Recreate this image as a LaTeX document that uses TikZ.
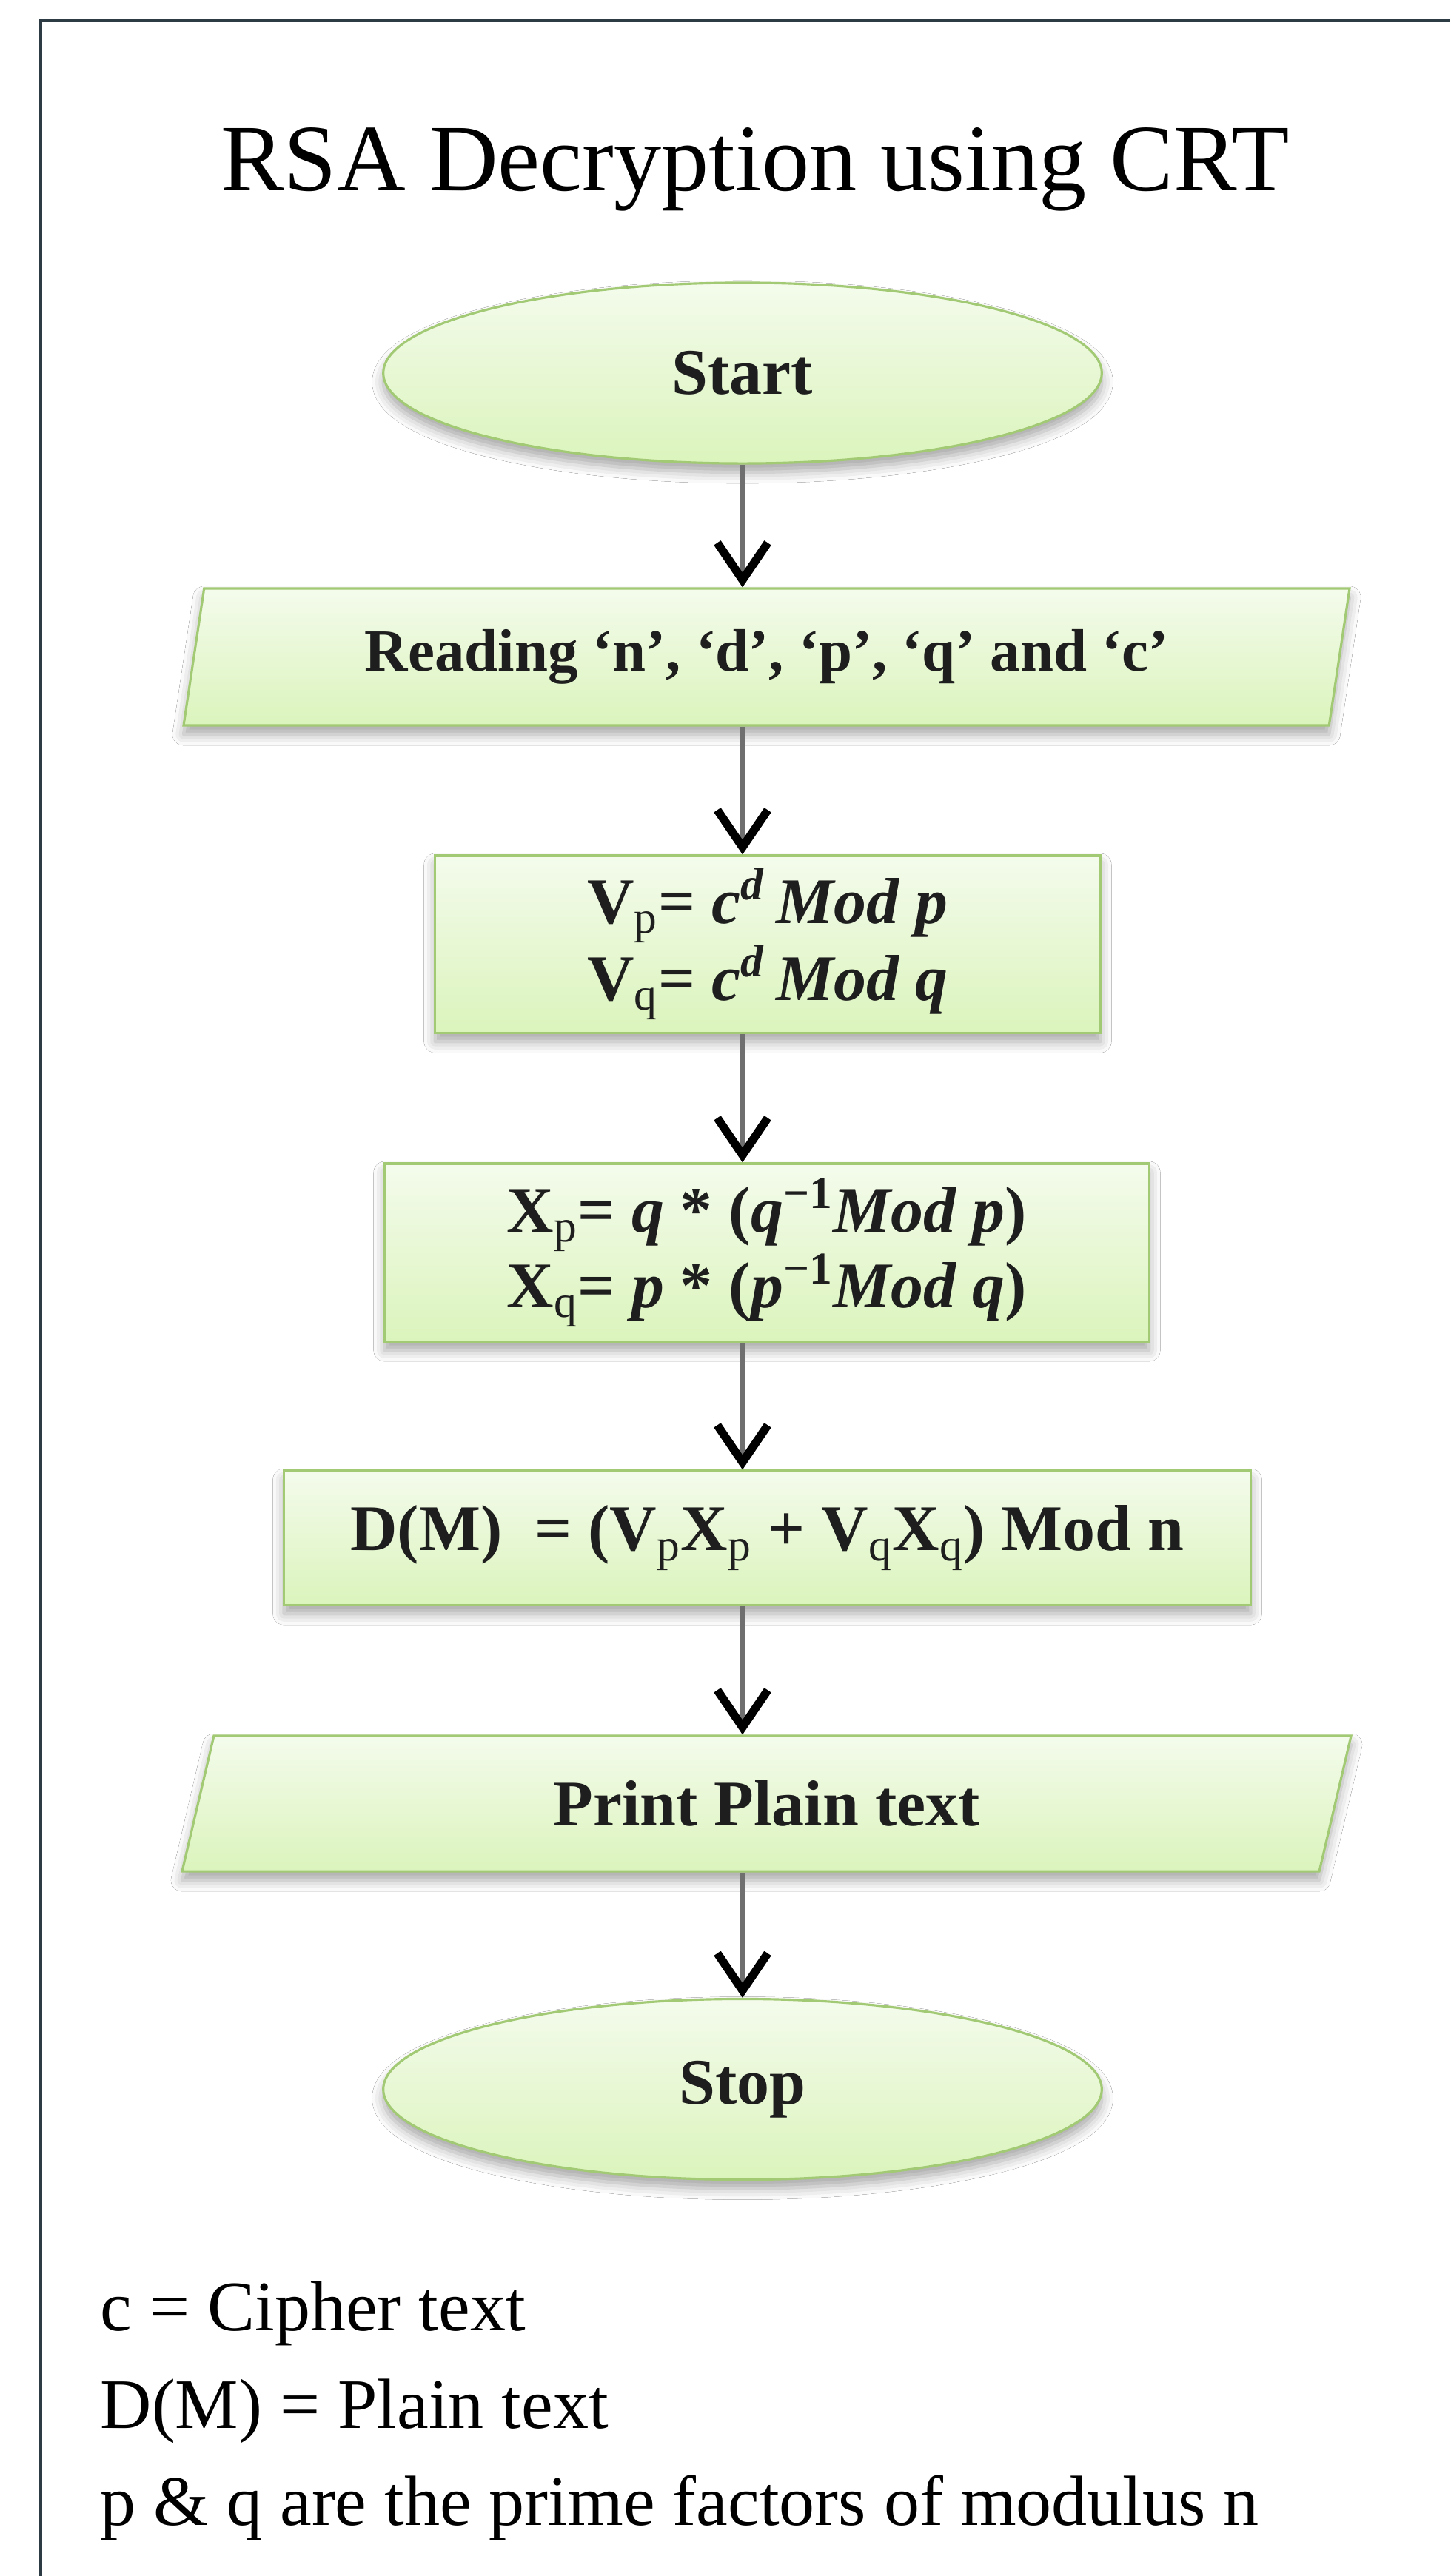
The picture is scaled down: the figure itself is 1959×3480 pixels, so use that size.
\documentclass[tikz,border=0pt]{standalone}
\usepackage{fontspec}
\setmainfont{Liberation Serif}
\usetikzlibrary{shapes.geometric,arrows.meta,shadows.blur}

\definecolor{framecol}{HTML}{2D3B45}
\definecolor{boxtop}{HTML}{F4FBEC}
\definecolor{boxbot}{HTML}{DBF4BC}
\definecolor{boxline}{HTML}{A2C974}
\definecolor{shaftgray}{HTML}{6F6F6F}
\definecolor{inktext}{HTML}{1E1E1E}

% small, light subscripts for the variable names
\newcommand{\lowidx}[1]{\textsubscript{\mdseries #1}}

\begin{document}
\begin{tikzpicture}[x=0.01cm,y=-0.01cm,
  shapebase/.style={draw=boxline, line width=0.9pt, top color=boxtop, bottom color=boxbot,
    text=inktext, inner sep=0pt, align=center,
    font=\bfseries\fontsize{25}{27.3}\selectfont,
    blur shadow={shadow xshift=0pt, shadow yshift=-1.2mm, shadow blur radius=1.5mm, shadow opacity=35}},
  term/.style={shapebase, ellipse, minimum width=9.7cm, minimum height=2.44cm},
  proc/.style={shapebase, rectangle},
  io/.style={shapebase, trapezium, trapezium left angle=75, trapezium right angle=105,
    trapezium stretches=true},
  flow/.style={draw=shaftgray, line width=2pt,
    -{Straight Barb[color=black, length=0.5cm, width=0.68cm, line width=3.2pt]}},
  heading/.style={font=\fontsize{36.5}{42}\selectfont, anchor=base, inner sep=0pt},
  legend/.style={font=\fontsize{27.3}{32}\selectfont, anchor=base west, inner sep=0pt}]

% page and frame
\fill[white, use as bounding box] (0,0) rectangle (1959,3480);
\draw[framecol, line width=0.9pt] (55,3480) -- (55,28) -- (1959,28);

\node[heading] (title) at (1020,257) {RSA Decryption using CRT};

% flowchart
\node[term] (start) at (1003,504) {Start};
\node[io, minimum width=15.81cm, minimum height=1.85cm,
      font=\bfseries\fontsize{23}{27}\selectfont] (read) at (1035.5,887.5)
  {Reading ‘n’, ‘d’, ‘p’, ‘q’ and ‘c’};
\node[proc, minimum width=8.98cm, minimum height=2.39cm] (vp) at (1037,1275.5)
  {V\lowidx{p}= \textit{c}\textsuperscript{\textit{d}}\,\textit{Mod p}\\
   V\lowidx{q}= \textit{c}\textsuperscript{\textit{d}}\,\textit{Mod q}};
\node[proc, minimum width=10.32cm, minimum height=2.4cm] (xp) at (1036,1692)
  {X\lowidx{p}= \textit{q} * (\textit{q}\textsuperscript{−1}\textit{Mod p})\\
   X\lowidx{q}= \textit{p} * (\textit{p}\textsuperscript{−1}\textit{Mod q})};
\node[proc, minimum width=13.05cm, minimum height=1.81cm] (dm) at (1036.5,2077.5)
  {D(M)\ \ = (V\lowidx{p}X\lowidx{p} + V\lowidx{q}X\lowidx{q}) Mod n};
\node[io, minimum width=15.79cm, minimum height=1.83cm] (out) at (1035.5,2436.5)
  {Print Plain text};
\node[term] (stop) at (1003,2822.5) {Stop};

% connectors
\draw[flow] (start.south) -- (start.south |- read.north);
\draw[flow] (start.south |- read.south) -- (start.south |- vp.north);
\draw[flow] (start.south |- vp.south) -- (start.south |- xp.north);
\draw[flow] (start.south |- xp.south) -- (start.south |- dm.north);
\draw[flow] (start.south |- dm.south) -- (start.south |- out.north);
\draw[flow] (start.south |- out.south) -- (stop.north);

% legend
\node[legend] (lgc) at (135,3148) {c = Cipher text};
\node[legend] (lgd) at (135,3280) {D(M) = Plain text};
\node[legend] (lgp) at (135,3411) {p \& q are the prime factors of modulus n};
\end{tikzpicture}
\end{document}
